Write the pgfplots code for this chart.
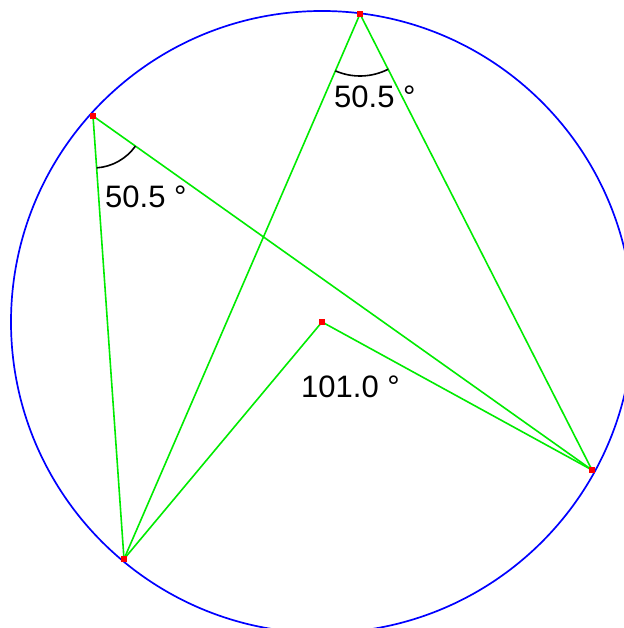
\documentclass[border=0pt]{standalone}
\usepackage{pgfplots}
\pgfplotsset{compat=1.18}
\usepackage{fontspec}
\setmainfont{Liberation Sans}
\definecolor{lgreen}{RGB}{0,235,0}
\begin{document}
\begin{tikzpicture}
\begin{axis}[
  x=1pt, y=1pt,
  xmin=0, xmax=623, ymin=0, ymax=628,
  hide axis,
  clip=false,
  anchor=south west, at={(0,0)},
]
% circle
\draw[blue, line width=1.7pt] (axis cs:322,306) circle[radius=311];
% points
\addplot[only marks, mark=square*, mark size=2.6pt, red] coordinates {
  (360,614) (93,512) (124,69) (592,158) (322,306)};
% segments
\addplot[lgreen, line width=1.6pt] coordinates {(360,614) (124,69)};
\addplot[lgreen, line width=1.6pt] coordinates {(360,614) (592,158)};
\addplot[lgreen, line width=1.6pt] coordinates {(93,512) (124,69)};
\addplot[lgreen, line width=1.6pt] coordinates {(93,512) (592,158)};
\addplot[lgreen, line width=1.6pt] coordinates {(322,306) (124,69)};
\addplot[lgreen, line width=1.6pt] coordinates {(322,306) (592,158)};
% angle arcs
\draw[black, line width=1.6pt] (axis cs:93,512) ++(-86:52) arc[start angle=-86, end angle=-35.4, radius=52];
\draw[black, line width=1.6pt] (axis cs:360,614) ++(-113.4:62) arc[start angle=-113.4, end angle=-63.0, radius=62];
% labels
\node[anchor=base west, inner sep=0pt, font=\fontsize{31}{36}\selectfont] at (axis cs:334,520) {50.5 °};
\node[anchor=base west, inner sep=0pt, font=\fontsize{31}{36}\selectfont] at (axis cs:105,420) {50.5 °};
\node[anchor=base west, inner sep=0pt, font=\fontsize{31}{36}\selectfont] at (axis cs:301,230) {101.0 °};
\end{axis}
\pgfresetboundingbox
\path[use as bounding box] (0,0) rectangle (623pt,628pt);
\end{tikzpicture}
\end{document}
